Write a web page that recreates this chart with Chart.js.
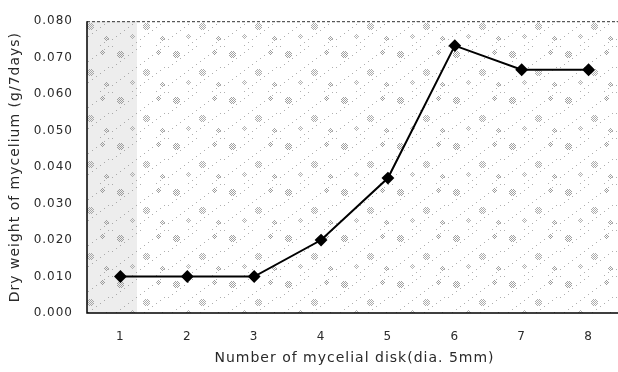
<!DOCTYPE html>
<html><head><meta charset="utf-8">
<script src="https://cdn.jsdelivr.net/npm/chart.js@4"></script>
<style>
html,body{margin:0;padding:0;background:#fff;overflow:hidden;}
#wrap{width:618px;height:372px;overflow:hidden;position:relative;}
#inner{width:630px;height:372px;}
</style></head><body>
<div id="wrap"><div id="inner"><canvas id="c" width="630" height="372"></canvas></div></div>
<script>
const categories = ['1','2','3','4','5','6','7','8'];
const dryWeight = [0.010, 0.010, 0.010, 0.020, 0.037, 0.0733, 0.0667, 0.0667];
const yTicks = [0, 0.01, 0.02, 0.03, 0.04, 0.05, 0.06, 0.07, 0.08];
const xTitle = 'Number of mycelial disk(dia. 5mm)';
const yTitle = 'Dry weight of mycelium (g/7days)';

function makePattern(){
  const t = document.createElement('canvas');
  t.width = 56; t.height = 46;
  const g = t.getContext('2d');
  g.fillStyle = '#ffffff'; g.fillRect(0,0,56,46);
  const clusters = [[8,8,3,'#a0a0a0'],[34,26,3,'#acacac'],[46,6,2,'#9c9c9c'],[20,36,2,'#b4b4b4'],[50,38,2,'#a4a4a4']];
  clusters.forEach(([cx,cy,r,col])=>{
    g.fillStyle = col;
    for(let x=cx-r;x<=cx+r;x++){
      for(let y=cy-r;y<=cy+r;y++){
        if(((x+y)%2)===0 && Math.abs(x-cx)+Math.abs(y-cy)<=r+1){
          g.fillRect((x+56)%56,(y+46)%46,1,1);
        }
      }
    }
  });
  g.fillStyle='#b0b0b0';
  for(let x=0;x<56;x+=4){for(let y=0;y<46;y+=3){ if(((x*7+y*5)%13)<2){g.fillRect(x,y,1,1);} }}
  return t;
}
const patCanvas = makePattern();

const spacingPlugin = {
  id:'spacing',
  beforeInit(chart){chart.ctx.letterSpacing='1px';},
  beforeLayout(chart){chart.ctx.letterSpacing='1px';},
  beforeDraw(chart){chart.ctx.letterSpacing='1px';}
};

const bgPlugin = {
  id:'bg',
  beforeDatasetsDraw(chart){
    const {ctx, chartArea:a} = chart;
    ctx.save();
    ctx.fillStyle = ctx.createPattern(patCanvas,'repeat');
    ctx.fillRect(a.left,a.top,a.right-a.left,a.bottom-a.top);
    ctx.fillStyle = 'rgba(140,140,140,0.16)';
    ctx.fillRect(a.left,a.top,50,a.bottom-a.top);
    ctx.strokeStyle = '#333'; ctx.lineWidth = 1; ctx.setLineDash([3,2]);
    ctx.beginPath(); ctx.moveTo(a.left,a.top+0.5); ctx.lineTo(a.right,a.top+0.5); ctx.stroke();
    ctx.setLineDash([]);
    ctx.strokeStyle = '#000'; ctx.lineWidth = 1.5;
    ctx.beginPath(); ctx.moveTo(a.left,a.top); ctx.lineTo(a.left,a.bottom); ctx.lineTo(a.right,a.bottom); ctx.stroke();
    ctx.restore();
  }
};

new Chart(document.getElementById('c'),{
  type:'line',
  data:{labels:categories,datasets:[{
    data:dryWeight,borderColor:'#000',backgroundColor:'#000',borderWidth:2,
    pointStyle:'rectRot',pointRadius:5,pointHoverRadius:5,tension:0
  }]},
  options:{
    responsive:false,animation:false,
    layout:{padding:{left:7,right:8,top:15,bottom:0}},
    plugins:{legend:{display:false},tooltip:{enabled:false}},
    scales:{
      x:{
        offset:true,
        grid:{display:false,drawTicks:false},
        border:{display:false},
        ticks:{color:'#2a2a2a',padding:17,font:{family:'DejaVu Sans',size:12}},
        title:{display:true,text:xTitle,color:'#2a2a2a',padding:{top:0,bottom:5},font:{family:'DejaVu Sans',size:14}},
        afterFit(s){s.height=59;}
      },
      y:{
        min:0,max:0.08,
        afterBuildTicks(s){s.ticks=yTicks.map(v=>({value:v}));},
        grid:{display:false,drawTicks:false},
        border:{display:false},
        ticks:{color:'#2a2a2a',padding:14,font:{family:'DejaVu Sans',size:12},callback:v=>Number(v).toFixed(3)},
        title:{display:true,text:yTitle,color:'#2a2a2a',padding:{top:0,bottom:0},font:{family:'DejaVu Sans',size:14}},
        afterFit(s){s.width=80;}
      }
    }
  },
  plugins:[spacingPlugin,bgPlugin]
});
</script></body></html>
